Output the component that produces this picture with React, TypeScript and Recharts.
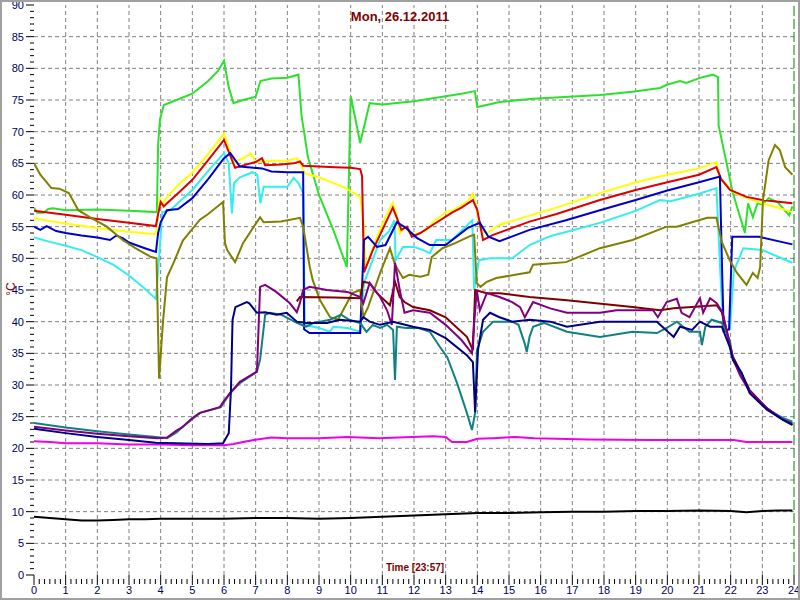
import React from 'react';
import { LineChart, Line, XAxis, YAxis, ReferenceLine } from 'recharts';

type Pt = [number, number];

const titleText = 'Mon, 26.12.2011';
const xTitle = 'Time [23:57]';
const yTitle = '°C';
const nowHour = 24;

const xMinorTicks = Array.from({ length: 145 }, (_, i) => i / 6);
const yMinorTicks = Array.from({ length: 91 }, (_, i) => i);
const gridX = [1, 2, 3, 4, 5, 6, 7, 8, 9, 10, 11, 12, 13, 14, 15, 16, 17, 18, 19, 20, 21, 22, 23];
const gridY = [5, 10, 15, 20, 25, 30, 35, 40, 45, 50, 55, 60, 65, 70, 75, 80, 85];

const green: Pt[] = [[0,58],[0.1,57.2],[0.3,57.2],[0.45,57.8],[0.6,57.9],[1,57.6],[2,57.7],[3,57.5],[3.88,57.3],[3.92,68],[3.98,72],[4.1,74.2],[4.5,75],[5,76],[5.5,78],[5.8,79.5],[6.0,81.2],[6.15,77],[6.3,74.5],[6.6,75],[7.0,75.5],[7.15,78],[7.5,78.4],[8.0,78.5],[8.35,79],[8.45,72.5],[8.65,66],[9.0,60],[9.45,54.5],[9.88,48.6],[10.0,75.6],[10.15,72],[10.3,68.2],[10.6,74.5],[11,74.3],[12,74.8],[12.5,75.2],[13,75.6],[13.5,76],[13.92,76.4],[14.0,73.9],[14.71,74.7],[15.76,75.2],[17.87,75.8],[18.9,76.3],[19.77,76.9],[19.98,77.4],[20.4,78],[20.6,77.7],[21.03,78.5],[21.44,79],[21.6,78.6],[21.62,71],[22.07,60.3],[22.45,54],[22.55,58.7],[22.7,56.5],[22.85,58.7],[23.0,58.5],[23.2,59.5],[23.5,58.8],[23.72,57.5],[23.85,56.8],[23.95,58.2]];

const yellow: Pt[] = [[0,56.3],[1,55.5],[2,54.8],[3,54.2],[3.85,53.8],[3.92,57],[3.97,59.6],[4.05,58.5],[4.2,59.7],[4.6,61.8],[5.0,63.5],[5.5,66.5],[6.0,69.7],[6.3,65.2],[6.6,65.8],[6.85,66.6],[7.0,65.2],[7.5,65.4],[8.0,65.4],[8.3,65.8],[8.45,64.5],[8.55,63.4],[9.0,62.8],[9.4,62],[9.8,61.2],[10.1,60.3],[10.3,59.7],[10.4,56],[10.48,48.5],[10.8,53],[11.1,56.5],[11.33,58.8],[11.45,56.8],[11.55,54],[11.7,55],[11.85,54],[12.1,53.8],[12.4,54.5],[12.6,55.7],[12.8,56.5],[13.0,57.3],[13.2,57.5],[13.45,58.2],[13.7,59],[13.86,60.2],[13.95,58.5],[14.1,54.5],[14.3,54],[14.7,55.3],[15.5,56.5],[16.5,58],[17.87,60.3],[19,62],[20,63.2],[21,64.2],[21.55,65.2],[21.65,63],[21.8,62],[22.07,60.5],[22.5,59.5],[23,58.7],[23.5,58],[23.95,57.3]];

const red: Pt[] = [[0,57.5],[1,56.9],[2,56.2],[3,55.6],[3.85,55.1],[3.92,57],[4.0,58.9],[4.1,58.2],[4.2,58.7],[4.6,60.5],[5.0,62.4],[5.5,65.5],[6.0,68.7],[6.35,64.3],[6.7,64.8],[7.0,65.2],[7.2,65.8],[7.3,64.7],[7.8,64.8],[8.2,65],[8.4,65.3],[8.5,64.6],[9.0,64.5],[9.5,64.4],[10.0,64.3],[10.3,64.1],[10.36,63],[10.42,47.8],[10.7,51.3],[11.0,54.5],[11.33,58],[11.45,56.5],[11.6,54.5],[11.78,55],[11.93,53.4],[12.2,54],[12.6,55.3],[13.2,57.2],[13.5,58],[13.86,59.2],[14.0,57.6],[14.18,52.9],[14.5,53.7],[15.1,54.8],[15.65,55.8],[16.5,57],[17.87,59.2],[19,60.8],[20,62],[21,63.2],[21.55,64.4],[21.7,62.5],[21.98,60.8],[22.5,59.7],[23,59.2],[23.95,58.7]];

const blue: Pt[] = [[0,55],[0.2,54.5],[0.4,55.1],[0.7,54.3],[1,54],[1.5,53.6],[2,53.3],[2.4,52.9],[2.6,53.6],[2.8,53.2],[3,52.5],[3.5,51.6],[3.85,51],[3.92,54],[4.0,55.7],[4.2,57.6],[4.55,57.8],[5.0,59.5],[5.5,62.5],[6.0,65.8],[6.2,66.6],[6.5,64.5],[7.2,64.2],[7.5,63.7],[8.0,63.6],[8.5,63.6],[8.53,38.8],[8.7,38.2],[10.3,38.2],[10.42,52.9],[10.55,53.4],[10.83,51.8],[11.1,52.1],[11.46,55.7],[11.75,54.8],[12.1,53.2],[12.5,52.1],[13.0,52.1],[13.7,54.8],[14.08,55.6],[14.35,53.4],[14.7,52.7],[15.65,54.5],[16.8,56],[17.87,57.6],[19,59.2],[20,60.7],[21,62],[21.66,62.9],[21.72,50],[21.78,38.5],[21.95,38.8],[22.05,53.4],[22.9,53.4],[23.95,52.2]];

const cyan: Pt[] = [[0,53.3],[0.5,52.6],[1,52],[1.5,51.3],[2,50.2],[2.5,49],[3,47.3],[3.5,45.2],[3.85,43.6],[3.92,48],[4.05,57.3],[4.3,57.6],[5.0,60.8],[5.5,63.8],[6.0,66.6],[6.15,65],[6.25,57.1],[6.32,61.9],[6.5,62.8],[6.9,63.6],[7.05,63.2],[7.15,58.7],[7.25,61.3],[7.6,61.3],[8.0,61.3],[8.2,62.7],[8.35,61.9],[8.5,60.3],[8.55,39.5],[9.0,39],[9.35,38.4],[9.45,39.2],[9.9,39],[10.3,38.4],[10.42,46.1],[10.93,52.9],[11.2,54.2],[11.38,56],[11.42,49.7],[11.65,51.8],[12,51.8],[12.3,51.3],[12.5,50.8],[12.7,52.9],[13.2,52.9],[13.84,56],[13.9,45],[14.05,49.7],[14.4,50],[15.1,50],[15.65,52.1],[16.3,53.5],[17.87,55.6],[19,57.5],[19.77,59.2],[20.1,59],[21,60.2],[21.55,61.1],[21.7,45],[21.78,38.5],[21.98,38.8],[22.1,48],[22.4,51.6],[23,51.3],[23.95,49.3]];

const olive: Pt[] = [[0,65],[0.2,63.2],[0.55,61.1],[0.8,61],[1.1,60.3],[1.4,57.6],[1.8,56.4],[2.3,55],[2.8,52.9],[3.2,51.6],[3.7,50.2],[3.87,50],[3.95,31],[4.07,39.8],[4.2,47],[4.4,49.2],[4.7,52.8],[5.24,56.1],[5.5,57],[5.97,58.9],[6.03,52.4],[6.1,51.3],[6.35,49.4],[6.6,52.4],[7.14,56.5],[7.25,55.7],[7.8,55.8],[8.4,56.4],[8.5,55],[8.71,48.6],[8.8,46.6],[9.03,43.4],[9.35,40.7],[9.6,40.3],[9.88,42.9],[10.05,44.5],[10.3,45],[10.4,40.7],[10.55,42.3],[10.93,47.7],[11.24,51.6],[11.4,49],[11.65,46.9],[11.85,47.4],[12.2,47.1],[12.45,47.4],[12.56,50.2],[12.9,51.6],[13.3,52.4],[13.77,53.5],[13.9,53.7],[13.98,46.1],[14.1,45.5],[14.3,46.3],[14.6,46.9],[15.65,47.8],[15.76,49],[16.8,49.4],[17.87,51.6],[18.9,52.9],[19.98,55],[20.3,55],[21.26,56.4],[21.55,56.4],[21.72,52.6],[21.97,49.7],[22.2,47.7],[22.5,45.8],[22.7,47.7],[22.85,46.9],[22.93,48.6],[23.02,59.2],[23.2,65.5],[23.4,67.9],[23.55,67.1],[23.72,64.4],[23.95,63.2]];

const purple: Pt[] = [[0,23.4],[1,22.8],[2,22.3],[3,21.9],[3.9,21.6],[4.2,21.7],[4.5,22.8],[4.7,23.4],[5.0,24.8],[5.24,25.6],[5.87,26.5],[6.0,27.5],[6.19,28.7],[6.5,30.5],[7.04,32.1],[7.14,45.5],[7.3,45.8],[7.65,44.7],[8.08,42.9],[8.3,41.5],[8.4,43],[8.5,45],[8.7,45.5],[9.25,45],[9.9,44.7],[10.3,43.9],[10.4,42.9],[10.6,46.1],[10.93,43.9],[11.15,41.8],[11.3,39.5],[11.4,49.3],[11.55,45],[11.7,41.4],[11.97,41.8],[12.5,41.4],[13.0,39.5],[13.5,37.1],[13.83,35],[13.98,45],[14.08,41.8],[14.3,44.5],[14.7,43.9],[15.1,43.1],[15.35,42.3],[15.5,40.7],[15.76,43.1],[16.3,42.1],[16.83,41.4],[17.87,41.4],[18.4,41.8],[19.55,41.8],[19.7,40.7],[19.98,43.1],[20.3,43.6],[20.45,41.4],[20.7,40.7],[21.03,43.7],[21.13,41.4],[21.35,43.7],[21.56,42.9],[21.75,41.4],[21.9,38],[22.07,34.2],[22.3,31.5],[22.6,29],[23.15,26.3],[23.6,24.7],[23.95,23.7]];

const teal: Pt[] = [[0,24],[1,23.3],[2,22.7],[3,22.2],[3.85,21.8],[4.2,21.6],[4.5,22.5],[4.7,23.4],[5.24,25.6],[5.9,26.5],[6.19,28.7],[6.5,30.3],[7.04,32.1],[7.14,34],[7.3,41.1],[7.45,41.4],[7.8,41.1],[8.0,40.6],[8.3,39.8],[8.5,39.4],[8.6,39.2],[8.83,39.8],[9.35,40.3],[9.7,41.1],[9.95,40.3],[10.3,39.8],[10.5,38.4],[10.7,39.5],[10.93,39],[11.15,39.5],[11.34,38.7],[11.4,30.8],[11.46,39.2],[11.75,39],[12.15,39],[12.5,38.4],[12.82,36],[13.05,34.4],[13.36,30.3],[13.67,25.6],[13.83,22.9],[13.93,25.6],[13.99,35.5],[14.18,38.4],[14.5,40],[15.1,40],[15.3,39.5],[15.5,36.5],[15.56,35.2],[15.65,37.6],[15.76,39.2],[16.1,39.8],[16.83,38.4],[17.87,37.6],[18.9,38.4],[19.67,38.2],[19.98,39],[20.3,40],[20.7,38.4],[21.03,38.4],[21.09,36.3],[21.2,39.2],[21.4,40.3],[21.72,39.8],[21.97,37.1],[22.07,34],[22.6,28.9],[23.15,26.1],[23.65,24.8],[23.95,24.2]];

const maroon: Pt[] = [[8.3,43.2],[8.4,43.9],[9.5,43.8],[10.3,43.7],[10.4,46.3],[10.6,46.1],[10.83,44.5],[11.24,42.6],[11.4,46.3],[11.55,43.9],[11.7,43.1],[11.97,42.3],[12.5,41.8],[13.0,40.7],[13.67,37.6],[13.86,35.5],[13.93,45],[14.3,44.5],[14.71,44.5],[15.65,43.9],[16.83,43.4],[18.9,42.3],[19.77,41.8],[20.2,42.1],[21.56,42.6],[21.72,41.5],[21.9,38],[22.07,34.5],[22.6,29.2],[23.15,26.3],[23.65,24.6],[23.95,23.9]];

const navy: Pt[] = [[0,23.1],[1,22.4],[2,21.8],[3,21.3],[3.85,20.9],[4.5,20.8],[5.5,20.7],[5.97,20.8],[6.15,22.4],[6.22,29.2],[6.27,40.3],[6.36,42.3],[6.72,43.1],[6.8,42.9],[7.04,41.4],[7.3,41.5],[7.66,41.1],[7.98,41.4],[8.3,40],[8.6,39.8],[9.25,39.8],[9.66,40.3],[10.3,40],[10.4,40.7],[10.6,40],[10.93,39.5],[11.34,40],[11.97,39.2],[12.5,38.7],[13.0,37.4],[13.67,34.7],[13.86,33.6],[13.93,25.7],[14.02,35.5],[14.18,40.3],[14.4,41.4],[14.7,40.7],[15.1,40],[15.65,40.3],[16.3,40],[16.83,39.2],[17.87,40],[19.67,40],[20.2,37.6],[20.4,39.2],[20.78,38.7],[21.03,40],[21.35,39.2],[21.72,39.2],[21.97,36],[22.07,34],[22.35,31.9],[22.6,28.7],[23.15,26.1],[23.65,24.5],[23.95,23.7]];

const magenta: Pt[] = [[0,21.1],[0.5,21],[1,20.8],[2,20.8],[3,20.6],[4,20.6],[5,20.5],[6,20.5],[6.3,20.7],[6.6,21],[7.04,21.4],[7.5,21.7],[8,21.6],[9,21.6],[9.9,21.8],[10.9,21.6],[11.5,21.7],[12.6,21.9],[13.0,21.8],[13.2,21],[13.67,21],[14.0,21.5],[14.5,21.6],[15.2,21.8],[15.8,21.6],[16.5,21.5],[17.5,21.4],[19.45,21.3],[20.5,21.3],[21.5,21.3],[22.1,21.3],[22.5,21],[23,21],[23.95,21]];

const black: Pt[] = [[0,9.2],[0.5,9.0],[1,8.8],[1.5,8.6],[2,8.6],[2.5,8.7],[3,8.8],[3.5,8.8],[4,8.9],[5,8.9],[6,8.9],[7,9.0],[8,9.0],[9,8.9],[10,9.0],[11,9.2],[12,9.4],[13,9.6],[14,9.8],[15,9.8],[16,9.9],[17,10.0],[18,10.0],[19,10.1],[20,10.1],[21,10.2],[22,10.1],[22.5,9.9],[23,10.1],[23.5,10.2],[23.95,10.2]];

const seriesList: { name: string; color: string; pts: Pt[] }[] = [
  { name: 'black', color: '#000000', pts: black },
  { name: 'magenta', color: '#ee00ee', pts: magenta },
  { name: 'green', color: '#2ee02e', pts: green },
  { name: 'yellow', color: '#ffff00', pts: yellow },
  { name: 'red', color: '#dd0000', pts: red },
  { name: 'cyan', color: '#33eeee', pts: cyan },
  { name: 'blue', color: '#0000cc', pts: blue },
  { name: 'olive', color: '#808000', pts: olive },
  { name: 'maroon', color: '#800000', pts: maroon },
  { name: 'teal', color: '#108080', pts: teal },
  { name: 'purple', color: '#800080', pts: purple },
  { name: 'navy', color: '#000080', pts: navy },
];

const FONT = '"Liberation Sans", Arial, sans-serif';
const TICK_COLOR = '#000066';
const GRID_COLOR = '#808080';

const YTick = (props: any) => {
  const { x, y, payload } = props;
  const v = payload.value;
  const major = v % 5 === 0;
  return (
    <g>
      <line x1={x - (major ? 8 : 4)} x2={x} y1={y} y2={y} stroke="#000" strokeWidth={1} />
      {major && (
        <text x={x - 10} y={y} dy="0.35em" textAnchor="end" fontSize={11} fontFamily={FONT} fill={TICK_COLOR}>
          {v}
        </text>
      )}
    </g>
  );
};

const XTick = (props: any) => {
  const { x, y, payload } = props;
  const v = payload.value;
  const major = Math.abs(v - Math.round(v)) < 1e-6;
  return (
    <g>
      <line x1={x} x2={x} y1={major ? y : y + 4} y2={major ? y + 10 : y + 9} stroke="#000" strokeWidth={1} />
      {major && (
        <text x={x} y={y + 19} textAnchor="middle" fontSize={11} fontFamily={FONT} fill={TICK_COLOR}>
          {Math.round(v)}
        </text>
      )}
    </g>
  );
};

export default function App() {
  return (
    <div style={{ position: 'absolute', left: 0, top: 0, width: 800, height: 600, background: '#fff', fontFamily: FONT }}>
      <LineChart width={800} height={600} margin={{ top: 5, right: 6, bottom: 0, left: 0 }}>
        <XAxis
          type="number"
          dataKey="t"
          domain={[0, 24]}
          ticks={xMinorTicks}
          interval={0}
          height={25}
          tickSize={0}
          tickMargin={0}
          tickLine={false}
          axisLine={false}
          tick={<XTick />}
          allowDataOverflow
        />
        <YAxis
          type="number"
          domain={[0, 90]}
          ticks={yMinorTicks}
          interval={0}
          width={34}
          tickSize={0}
          tickMargin={0}
          tickLine={false}
          axisLine={false}
          tick={<YTick />}
          allowDataOverflow
        />
        {gridY.map((v) => (
          <ReferenceLine key={'gy' + v} y={v} stroke={GRID_COLOR} strokeDasharray="4 3" strokeWidth={1} />
        ))}
        {gridX.map((v) => (
          <ReferenceLine key={'gx' + v} x={v} stroke={GRID_COLOR} strokeDasharray="4 3" strokeWidth={1} />
        ))}
        {seriesList.map((s) => (
          <Line
            key={s.name}
            data={s.pts.map(([t, v]) => ({ t, v }))}
            dataKey="v"
            type="linear"
            stroke={s.color}
            strokeWidth={2}
            dot={false}
            activeDot={false}
            isAnimationActive={false}
          />
        ))}
        <ReferenceLine x={nowHour} stroke="#008000" strokeDasharray="10 3" strokeWidth={1} />
      </LineChart>
      <div style={{ position: 'absolute', left: 0, top: 9, width: 800, textAlign: 'center', fontSize: 13, fontWeight: 'bold', color: '#800000', lineHeight: '16px' }}>
        {titleText}
      </div>
      <div style={{ position: 'absolute', left: 315, top: 561, width: 200, textAlign: 'center', fontSize: 10, fontWeight: 'bold', color: '#800000', lineHeight: '14px' }}>
        {xTitle}
      </div>
      <div style={{ position: 'absolute', left: -9, top: 282, width: 40, textAlign: 'center', fontSize: 12, color: '#800000', lineHeight: '14px', transform: 'rotate(-90deg)' }}>
        {yTitle}
      </div>
      <div style={{ position: 'absolute', left: 0, top: 0, width: 800, height: 600, boxSizing: 'border-box', border: '2px solid #a0a0a0', pointerEvents: 'none' }} />
    </div>
  );
}
